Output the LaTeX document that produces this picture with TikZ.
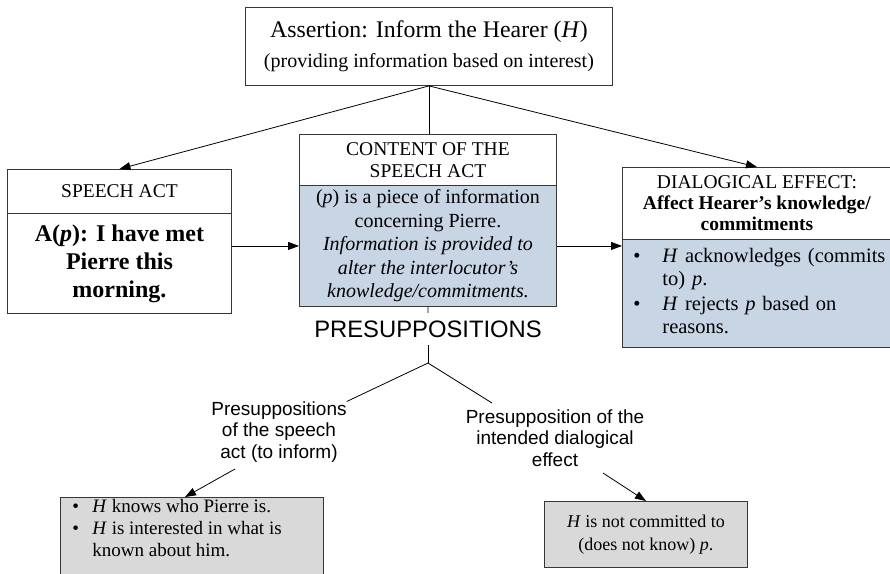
\documentclass[tikz,border=0pt]{standalone}
\usepackage{fontspec}
\setmainfont{Liberation Serif}
\setsansfont{Liberation Sans}
\usetikzlibrary{arrows.meta,calc}
\definecolor{boxblue}{RGB}{200,213,229}
\definecolor{boxgray}{RGB}{217,217,217}
\definecolor{edge}{RGB}{55,55,55}
\begin{document}
\begin{tikzpicture}[x=1pt,y=-1pt,
  box/.style={draw=edge,line width=0.9pt,inner sep=0pt,align=center,anchor=north west},
  arr/.style={draw=black,line width=0.8pt,-{Triangle[length=11pt,width=8pt]}},
  ln/.style={draw=black,line width=0.8pt},
  lbl/.style={font=\sffamily\fontsize{19}{21.5}\selectfont,align=center,inner sep=0pt}]
\useasboundingbox (0,0) rectangle (890,573);
% top box
\node[box,minimum width=367pt,minimum height=78pt,font=\fontsize{20}{30}\selectfont] (top) at (245,7)
  {{\fontsize{23.8}{30}\selectfont Assertion: Inform the Hearer (\textit{H})}\\ (providing information based on interest)};
% speech act
\node[box,minimum width=224pt,minimum height=44pt,font=\fontsize{19.5}{22}\selectfont] (sat) at (7,169) {SPEECH ACT};
\node[box,minimum width=224pt,minimum height=100pt,font=\fontsize{24}{28}\selectfont\bfseries] (sab) at (7,213)
  {A(\textit{p}): I have met\\ Pierre this\\ morning.};
% content
\node[box,minimum width=257pt,minimum height=51pt,font=\fontsize{19.5}{22}\selectfont] (ctt) at (299,134) {CONTENT OF THE\\ SPEECH ACT};
\node[box,fill=boxblue,minimum width=257pt,minimum height=121pt,font=\fontsize{20}{23.5}\selectfont] (ctb) at (299,185)
  {(\textit{p}) is a piece of information\\ concerning Pierre.\\ \textit{Information is provided to}\\ \textit{alter the interlocutor’s}\\ \textit{knowledge/commitments.}};
% dialogical effect
\node[box,minimum width=269pt,minimum height=72pt,font=\fontsize{19.5}{21}\selectfont] (det) at (622,167)
  {DIALOGICAL EFFECT:\\ \textbf{Affect Hearer’s knowledge/}\\ \textbf{commitments}};
\node[box,fill=boxblue,minimum width=269pt,minimum height=108pt,text width=247pt,align=left,font=\fontsize{20.5}{22.5}\selectfont] (deb) at (622,239)
  {\begin{tabular}{@{}p{29pt}@{}l@{}}
   \textbullet & \textit{H} acknowledges (commits\\
               & to) \textit{p}.\\[3pt]
   \textbullet & \textit{H} rejects \textit{p} based on\\
               & reasons.
   \end{tabular}};
% presuppositions
\node[font=\sffamily\fontsize{23.8}{26}\selectfont,inner sep=0pt,minimum height=32pt] (pre) at (428,329) {PRESUPPOSITIONS};
\coordinate (j) at (428,363);
\node[lbl] (lab1) at (279,432) {Presuppositions\\ of the speech\\ act (to inform)};
\node[lbl] (lab2) at (555,438) {Presupposition of the\\ intended dialogical\\ effect};
\coordinate (j2) at (492,403);
% bottom boxes
\node[box,fill=boxgray,font=\fontsize{19}{22}\selectfont,align=left] (bl) at (60,497)
  {\parbox[t][90pt][t]{263pt}{\vspace{0pt}\hspace*{12pt}\begin{tabular}{@{}p{20pt}@{}l@{}}
   \textbullet & \textit{H} knows who Pierre is.\\
   \textbullet & \textit{H} is interested in what is\\
               & known about him.
   \end{tabular}}};
\node[box,fill=boxgray,minimum width=203pt,minimum height=66pt,font=\fontsize{18}{23}\selectfont] (br) at (544,501)
  {\textit{H} is not committed to\\ (does not know) \textit{p}.};
\coordinate (a1) at (235,469);
\coordinate (a1e) at (185,497);
\coordinate (a2) at (603,473);
% connectors
\draw[ln] (top.south) -- (top.south |- ctt.north);
\draw[arr] (top.south) -- (sat.north);
\draw[arr] (top.south) -- (det.north);
\draw[arr] (sab.east |- ctb.west) -- (ctb.west);
\draw[arr] (ctb.east) -- (ctb.east -| deb.west);
\draw[ln] (ctb.south) -- (pre.north);
\draw[ln] (pre.south) -- (j);
\draw[ln] (j) -- (lab1.north east);
\draw[ln] (j) -- (j2);
\draw[arr] (a1) -- (a1e);
\draw[arr] (a2) -- (br.north);
\end{tikzpicture}
\end{document}
